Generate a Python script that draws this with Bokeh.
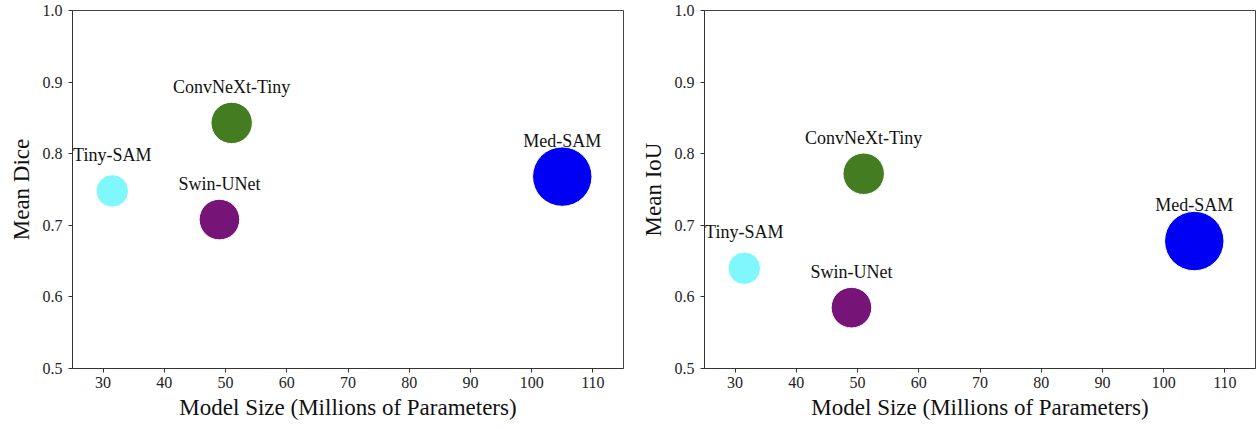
import numpy as np
from bokeh.plotting import figure
from bokeh.layouts import row
from bokeh.models import ColumnDataSource, FixedTicker
from bokeh.core.properties import value
from bokeh.embed import file_html
from bokeh.resources import INLINE

models = ["Tiny-SAM", "ConvNeXt-Tiny", "Swin-UNet", "Med-SAM"]
model_size = [31.5, 51.0, 49.0, 105.0]
mean_dice = [0.748, 0.843, 0.708, 0.768]
mean_iou = [0.640, 0.772, 0.585, 0.678]
colors = ["#80f8fb", "#437c21", "#761577", "#0000f5"]

x_ticks = [30, 40, 50, 60, 70, 80, 90, 100, 110]
x_tick_labels = ["30", "40", "50", "60", "70", "80", "90", "100", "110"]
y_ticks = [0.5, 0.6, 0.7, 0.8, 0.9, 1.0]
y_tick_labels = ["0.5", "0.6", "0.7", "0.8", "0.9", "1.0"]

x_label = "Model Size (Millions of Parameters)"
y_labels = ["Mean Dice", "Mean IoU"]

FONT = "Liberation Serif"


def make_plot(yvals, ylabel, border_left, border_right):
    diam = [5.8 * np.sqrt(s) for s in model_size]
    src = ColumnDataSource(dict(x=model_size, y=yvals, name=models,
                                color=colors, d=diam))
    p = figure(frame_width=551, frame_height=358,
               x_range=(25, 115), y_range=(0.5, 1.0),
               output_backend="svg", toolbar_location=None,
               min_border_left=border_left, min_border_right=border_right,
               min_border_top=10, min_border_bottom=58)
    p.background_fill_color = "white"
    p.border_fill_color = "white"
    p.grid.visible = False
    p.outline_line_color = "#444444"
    p.outline_line_width = 1

    p.scatter("x", "y", size="d", fill_color="color", line_color="white",
              line_width=1, source=src)
    p.text("x", "y", text="name", source=src, text_align="center",
           text_baseline="alphabetic", y_offset=-36,
           text_font=value(FONT), text_font_size="18px", text_color="#111111")

    for ax, ticks, labels in ((p.xaxis[0], x_ticks, x_tick_labels),
                              (p.yaxis[0], y_ticks, y_tick_labels)):
        ax.ticker = FixedTicker(ticks=ticks)
        ax.major_label_overrides = {t: l for t, l in zip(ticks, labels)}
        ax.minor_tick_line_color = None
        ax.major_tick_out = 4
        ax.major_tick_in = 0
        ax.major_tick_line_color = "#333333"
        ax.axis_line_color = "#333333"
        ax.major_label_text_font = FONT
        ax.major_label_text_font_size = "16px"
        ax.major_label_text_color = "#222222"
        ax.axis_label_text_font = FONT
        ax.axis_label_text_font_size = "23px"
        ax.axis_label_text_font_style = "normal"
        ax.axis_label_text_color = "#111111"

    p.xaxis.axis_label = x_label
    p.yaxis.axis_label = ylabel
    p.xaxis.major_label_standoff = 4
    p.xaxis.axis_label_standoff = 4
    p.yaxis.major_label_standoff = 6
    p.yaxis.axis_label_standoff = 6
    return p


p1 = make_plot(mean_dice, y_labels[0], 72, 14)
p2 = make_plot(mean_iou, y_labels[1], 63, 1)
layout = row(p1, p2, spacing=0)

open("out.html", "w").write(file_html(layout, INLINE))
